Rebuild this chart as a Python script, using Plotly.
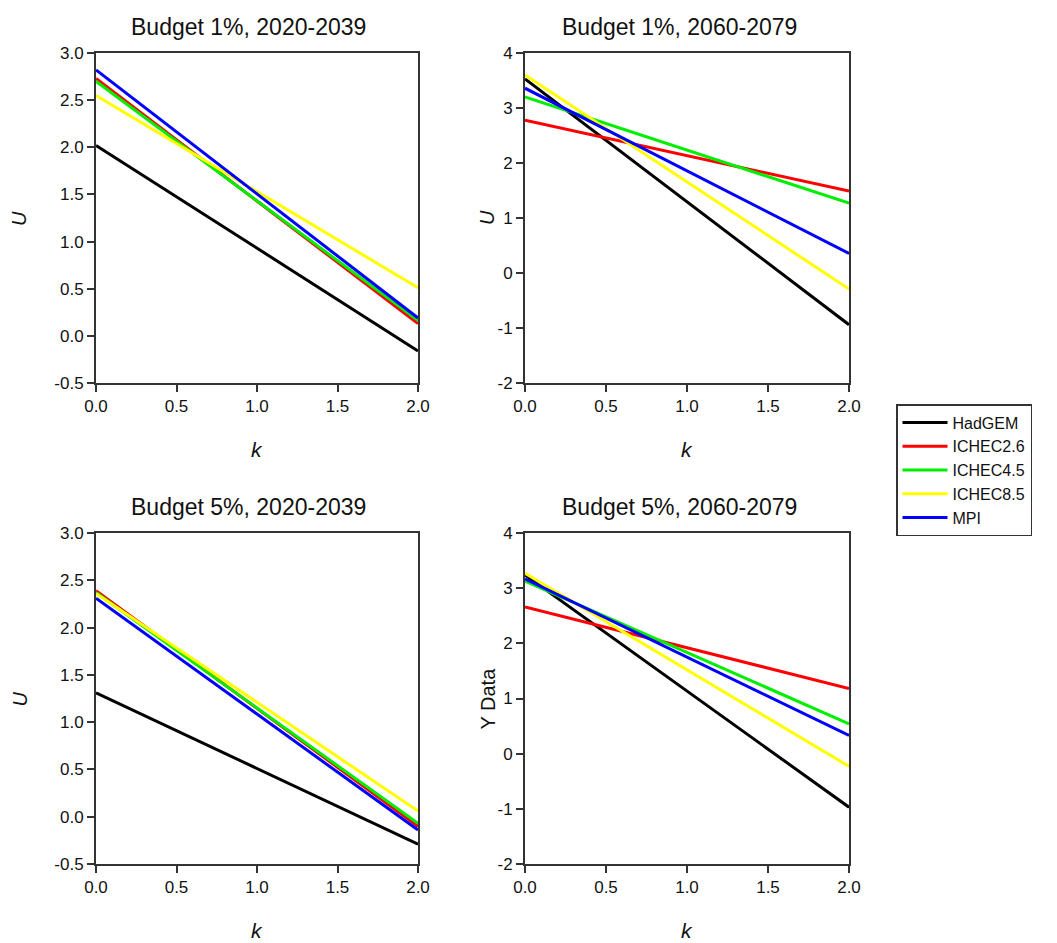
import plotly.graph_objects as go

series = ["HadGEM", "ICHEC2.6", "ICHEC4.5", "ICHEC8.5", "MPI"]
colors = ["#000000", "#ff0000", "#00ee00", "#ffff00", "#0000ff"]
k_vals = [0.0, 2.0]

# panel values: [U at k=0, U at k=2] per series
b1_2020 = {"HadGEM": [2.02, -0.16], "ICHEC2.6": [2.73, 0.13], "ICHEC4.5": [2.70, 0.165],
           "ICHEC8.5": [2.55, 0.51], "MPI": [2.82, 0.19]}
b1_2060 = {"HadGEM": [3.53, -0.94], "ICHEC2.6": [2.78, 1.49], "ICHEC4.5": [3.20, 1.27],
           "ICHEC8.5": [3.60, -0.29], "MPI": [3.36, 0.355]}
b5_2020 = {"HadGEM": [1.31, -0.29], "ICHEC2.6": [2.39, -0.10], "ICHEC4.5": [2.37, -0.07],
           "ICHEC8.5": [2.36, 0.06], "MPI": [2.31, -0.14]}
b5_2060 = {"HadGEM": [3.24, -0.97], "ICHEC2.6": [2.66, 1.18], "ICHEC4.5": [3.13, 0.54],
           "ICHEC8.5": [3.27, -0.23], "MPI": [3.17, 0.33]}

titles = ["Budget 1%, 2020-2039", "Budget 1%, 2060-2079",
          "Budget 5%, 2020-2039", "Budget 5%, 2060-2079"]
ylabels = ["U", "U", "U", "Y Data"]
panels = [b1_2020, b1_2060, b5_2020, b5_2060]

# page body has an 8px margin; figure sized to fill the rest of the window
OFF = 8
W, H = 1057 - OFF, 943 - OFF
def px_x(p): return (p - OFF) / W
def px_y(p): return 1 - (p - OFF) / H

xdoms = [[px_x(96), px_x(418)], [px_x(525), px_x(849)]]
ydoms = [[px_y(383), px_y(53)], [px_y(864), px_y(533)]]
ylab_off = [77, 38]

fig = go.Figure()
font_family = "Liberation Sans, Arial, sans-serif"

for i, data in enumerate(panels):
    r, c = divmod(i, 2)
    ax = "" if i == 0 else str(i + 1)
    for s, col in zip(series, colors):
        fig.add_trace(go.Scatter(
            x=k_vals, y=data[s], mode="lines", name=s,
            line=dict(color=col, width=3),
            xaxis="x" + ax, yaxis="y" + ax,
            showlegend=(i == 0), legendgroup=s))
    axis_common = dict(showline=True, linecolor="#333", linewidth=2, mirror=True,
                       ticks="outside", ticklen=7, tickcolor="#333", tickwidth=2,
                       showgrid=False, zeroline=False, automargin=False,
                       tickfont=dict(family=font_family, size=17, color="#111"))
    fig.layout["xaxis" + ax] = dict(axis_common, domain=xdoms[c], range=[0, 2],
                                    tickvals=[0, 0.5, 1.0, 1.5, 2.0],
                                    ticktext=["0.0", "0.5", "1.0", "1.5", "2.0"],
                                    anchor="y" + ax)
    if c == 0:
        yt = dict(range=[-0.5, 3.0], tickvals=[-0.5, 0, 0.5, 1, 1.5, 2, 2.5, 3],
                  ticktext=["-0.5", "0.0", "0.5", "1.0", "1.5", "2.0", "2.5", "3.0"])
    else:
        yt = dict(range=[-2, 4], tickvals=[-2, -1, 0, 1, 2, 3, 4],
                  ticktext=["-2", "-1", "0", "1", "2", "3", "4"])
    fig.layout["yaxis" + ax] = dict(axis_common, domain=ydoms[r], anchor="x" + ax, **yt)

    xc = (xdoms[c][0] + xdoms[c][1]) / 2
    ytop = ydoms[r][1]
    ymid = (ydoms[r][0] + ydoms[r][1]) / 2
    fig.add_annotation(text=titles[i], x=xc - 8 / W, y=ytop + 26 / H, xref="paper", yref="paper",
                       showarrow=False, font=dict(family=font_family, size=23, color="#111"),
                       xanchor="center", yanchor="middle")
    fig.add_annotation(text="<i>k</i>", x=xc, y=ydoms[r][0] - 66 / H, xref="paper", yref="paper",
                       showarrow=False, font=dict(family=font_family, size=21, color="#111"),
                       xanchor="center", yanchor="middle")
    lab = ylabels[i] if ylabels[i] == "Y Data" else "<i>" + ylabels[i] + "</i>"
    fig.add_annotation(text=lab, x=xdoms[c][0] - ylab_off[c] / W, y=ymid, xref="paper", yref="paper",
                       showarrow=False, textangle=-90,
                       font=dict(family=font_family, size=20, color="#111"),
                       xanchor="center", yanchor="middle")

fig.update_layout(
    width=W, height=H,
    margin=dict(l=0, r=0, t=0, b=0, autoexpand=False),
    paper_bgcolor="white", plot_bgcolor="white",
    legend=dict(x=px_x(896), y=px_y(404), xanchor="left", yanchor="top",
                bordercolor="#333", borderwidth=1.5, bgcolor="white",
                font=dict(family=font_family, size=16, color="#111"),
                itemwidth=45, tracegroupgap=0),
)

fig.write_html("out.html")
